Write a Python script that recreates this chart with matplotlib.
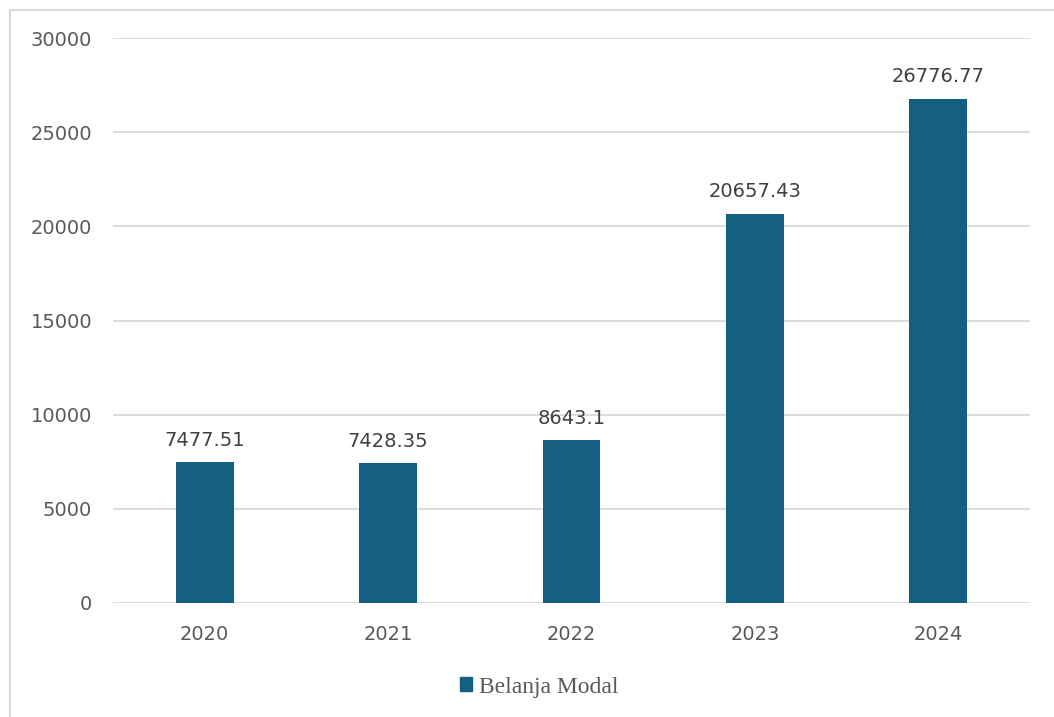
import matplotlib
matplotlib.use("Agg")
import matplotlib.pyplot as plt
from matplotlib.patches import Rectangle, Patch

years = ["2020", "2021", "2022", "2023", "2024"]
belanja_modal = [7477.51, 7428.35, 8643.1, 20657.43, 26776.77]
labels = ["7477.51", "7428.35", "8643.1", "20657.43", "26776.77"]
yticks = [0, 5000, 10000, 15000, 20000, 25000, 30000]

BAR = "#156082"
GRID = "#d9d9d9"
TICK = "#595959"

plt.rcParams["font.family"] = ["DejaVu Sans"]

fig = plt.figure(figsize=(10.54, 7.17), dpi=100)
ax = fig.add_axes([113 / 1054, 114 / 717, 917 / 1054, 565 / 717])

x = range(len(years))
ax.bar(x, belanja_modal, width=0.316, color=BAR, zorder=3)
for i, (v, t) in enumerate(zip(belanja_modal, labels)):
    ax.annotate(t, (i, v), xytext=(0, 9), textcoords="offset points",
                ha="center", va="bottom", fontsize=14, color="#404040")

ax.set_xlim(-0.5, len(years) - 0.5)
ax.set_ylim(0, 30000)
ax.set_xticks(list(x))
ax.set_xticklabels(years)
ax.set_yticks(yticks)
ax.set_yticklabels([str(t) for t in yticks])
ax.tick_params(axis="both", length=0, labelsize=14, labelcolor=TICK)
ax.tick_params(axis="y", pad=15)
ax.tick_params(axis="x", pad=16)
ax.grid(axis="y", color=GRID, lw=1.3, zorder=0)
for s in ax.spines.values():
    s.set_visible(False)

# chart border (extends past right/bottom edges like the source)
fig.patches.append(Rectangle((10 / 1054, -0.05), 1.2, (707 / 717) + 0.05,
                             transform=fig.transFigure, fill=False,
                             edgecolor=GRID, lw=1.5))

fig.legend(handles=[Patch(color=BAR, label="Belanja Modal")],
           loc="center", bbox_to_anchor=(539 / 1054, 1 - 687 / 717),
           frameon=False, handlelength=0.5, handleheight=0.5, handletextpad=0.3,
           prop={"family": "Liberation Serif", "size": 17}, labelcolor=TICK)

fig.savefig("out.png", dpi=100)
